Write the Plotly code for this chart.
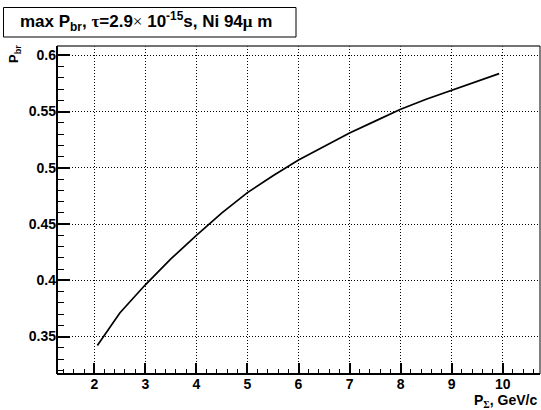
import plotly.graph_objects as go

# Data
p_sigma = [2.06, 2.5, 3.0, 3.5, 4.0, 4.5, 5.0, 5.5, 6.0, 6.5, 7.0, 7.5, 8.0, 8.5, 9.0, 9.5, 9.93]
p_br = [0.342, 0.371, 0.396, 0.419, 0.440, 0.460, 0.478, 0.493, 0.507, 0.519, 0.531, 0.5415, 0.552, 0.561, 0.569, 0.577, 0.5837]

x_range = [1.27, 10.73]
y_range = [0.3167, 0.6083]

W, H = 541, 410
L, R, T, B = 57, 1, 46, 36
pw, ph = W - L - R, H - T - B

def px(xp):
    return (xp - L) / pw

def py(yp):
    return (H - B - yp) / ph

FONT = "Liberation Sans, Arial, Helvetica, sans-serif"
SERIF = "Liberation Serif, Times New Roman, serif"

fig = go.Figure()
fig.add_trace(go.Scatter(x=p_sigma, y=p_br, mode="lines",
                         line=dict(color="black", width=1.7), showlegend=False))

fig.update_layout(
    width=W, height=H,
    margin=dict(l=L, r=R, t=T, b=B, pad=0, autoexpand=False),
    paper_bgcolor="white", plot_bgcolor="white",
    showlegend=False,
)

fig.update_xaxes(
    range=x_range, dtick=1, tick0=0, automargin=False,
    ticks="inside", ticklen=11, tickwidth=1.5, tickcolor="black",
    showline=False,
    showgrid=True, gridcolor="black", griddash="1px,2px", gridwidth=1,
    zeroline=False,
    minor=dict(dtick=0.2, tick0=0, ticks="inside", ticklen=5, tickwidth=1.2,
               tickcolor="black", showgrid=False),
    tickfont=dict(family=FONT, size=14, color="black", weight="bold"),
)
fig.update_yaxes(
    range=y_range, dtick=0.05, tick0=0, automargin=False,
    ticks="inside", ticklen=13, tickwidth=1.5, tickcolor="black",
    showline=False,
    showgrid=True, gridcolor="black", griddash="1px,2px", gridwidth=1,
    zeroline=False,
    minor=dict(dtick=0.01, tick0=0, ticks="inside", ticklen=7, tickwidth=1.2,
               tickcolor="black", showgrid=False),
    tickfont=dict(family=FONT, size=14, color="black", weight="bold"),
)

# frame lines (paper coordinates)
fig.add_shape(type="line", xref="paper", yref="paper", x0=0, x1=1, y0=1, y1=1,
              line=dict(color="#444444", width=1.5))
fig.add_shape(type="line", xref="paper", yref="paper", x0=1, x1=1, y0=0, y1=1,
              line=dict(color="black", width=1))
fig.add_shape(type="line", xref="paper", yref="paper", x0=0, x1=0, y0=0, y1=1,
              line=dict(color="black", width=2))
fig.add_shape(type="line", xref="paper", yref="paper", x0=0, x1=1, y0=0, y1=0,
              line=dict(color="black", width=2))

# title box
fig.add_shape(type="rect", xref="paper", yref="paper",
              x0=px(3.5), x1=px(296), y0=py(37), y1=py(7.5),
              line=dict(color="black", width=1), fillcolor="white")
title_text = ("<b>max P<sub>br</sub>, "
              f"<span style='font-family:{SERIF}'>τ</span>=2.9"
              f"<span style='font-family:{SERIF};font-weight:normal'>×</span> 10<sup>-15</sup>s, Ni 94"
              f"<span style='font-family:{SERIF}'>μ</span> m</b>")
fig.add_annotation(xref="paper", yref="paper", x=px(146), y=py(22),
                   xanchor="center", yanchor="middle", showarrow=False,
                   text=title_text,
                   font=dict(family=FONT, size=17, color="black"))

# axis titles
fig.add_annotation(xref="paper", yref="paper", x=px(539), y=py(401),
                   xanchor="right", yanchor="middle", showarrow=False,
                   text=f"<b>P<sub><span style='font-family:{SERIF}'>Σ</span></sub>, GeV/c</b>",
                   font=dict(family=FONT, size=14, color="black"))
fig.add_annotation(xref="paper", yref="paper", x=px(14), y=py(43),
                   xanchor="center", yanchor="top", showarrow=False, textangle=-90,
                   text="<b>P<sub>br</sub></b>",
                   font=dict(family=FONT, size=13, color="black"))

fig.write_html("out.html")
